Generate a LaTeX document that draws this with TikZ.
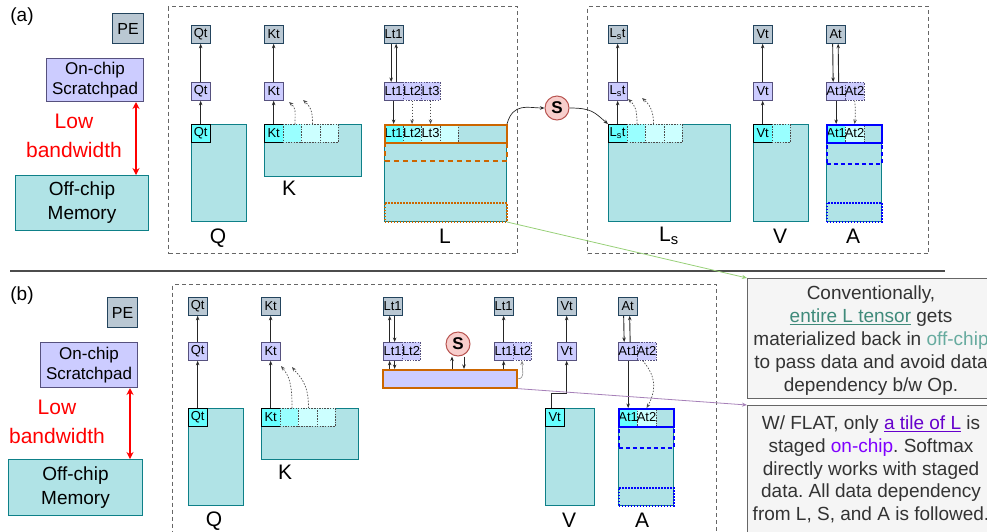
\documentclass[tikz,border=0pt]{standalone}
\usepackage{fontspec}
\setmainfont{Liberation Sans}
\usetikzlibrary{arrows.meta,calc}
\frenchspacing
\definecolor{gfill}{HTML}{BAC8D3}
\definecolor{gdraw}{HTML}{23445D}
\definecolor{lfill}{HTML}{CCCCFF}
\definecolor{ldraw}{HTML}{56517E}
\definecolor{tfill}{HTML}{B0E3E6}
\definecolor{tdraw}{HTML}{0E8088}
\definecolor{cya}{HTML}{66FFFF}
\definecolor{cyb}{HTML}{99FFFF}
\definecolor{cyc}{HTML}{CCFFFF}
\definecolor{sfill}{HTML}{F8CECC}
\definecolor{sdraw}{HTML}{B85450}
\definecolor{orng}{HTML}{CC6600}
\definecolor{blu}{HTML}{0000FF}
\definecolor{grn}{HTML}{97D077}
\definecolor{prp}{HTML}{A680B8}
\definecolor{boxfill}{HTML}{F5F5F5}
\definecolor{boxdraw}{HTML}{666666}
\definecolor{txtc}{HTML}{333333}
\definecolor{tealA}{HTML}{3F8A7A}
\definecolor{tealB}{HTML}{67AB9F}
\definecolor{purA}{HTML}{6600CC}
\definecolor{purB}{HTML}{7F00FF}
\tikzset{
  tl/.style={minimum width=18.5pt, minimum height=18pt, inner sep=0pt, font=\fontsize{13}{13}\selectfont, line width=0.8pt, anchor=north west},
  gtile/.style={tl, fill=gfill, draw=gdraw},
  ltile/.style={tl, fill=lfill, draw=ldraw},
  ltiled/.style={tl, fill=lfill, draw=ldraw, dash pattern=on 1.5pt off 1.2pt, line width=0.6pt},
  ctile/.style={tl, fill=cya, draw=black},
  ctileb/.style={tl, fill=cyb, draw=black!70, dash pattern=on 1.5pt off 1.2pt, line width=0.6pt},
  ctilec/.style={tl, fill=cyc, draw=black!70, dash pattern=on 1.5pt off 1.2pt, line width=0.6pt},
  tensor/.style={fill=tfill, draw=tdraw, line width=1pt, inner sep=0pt, anchor=north west},
  frame/.style={draw=none, fill=none, inner sep=0pt, anchor=north west},
  obox/.style={frame, draw=orng, line width=1.6pt},
  bbox/.style={frame, draw=blu, line width=1.5pt},
  dbox/.style={frame, draw=black!60, line width=1pt, dash pattern=on 4pt off 3pt},
  arr/.style={-{Stealth[length=4.5pt,width=3.5pt]}, line width=0.9pt, draw=black!85},
  darr/.style={-{Stealth[length=4.5pt,width=3.5pt]}, line width=0.7pt, draw=black!70, dash pattern=on 1.5pt off 1.5pt},
  biglbl/.style={font=\fontsize{21}{21}\selectfont},
  redar/.style={{Stealth[length=7pt,width=7pt]}-{Stealth[length=7pt,width=7pt]}, line width=2pt, draw=red},
  pebox/.style={fill=gfill, draw=gdraw, line width=1pt, inner sep=0pt, anchor=north west, font=\fontsize{16}{18}\selectfont},
  spbox/.style={fill=lfill, draw=ldraw, line width=1pt, inner sep=0pt, anchor=north west, align=center, font=\fontsize{17}{20}\selectfont},
  ofbox/.style={fill=tfill, draw=tdraw, line width=1pt, inner sep=0pt, anchor=north west, align=center, font=\fontsize{19}{24}\selectfont},
  redtxt/.style={text=red, align=center, font=\fontsize{21}{29}\selectfont},
  scirc/.style={circle, fill=sfill, draw=sdraw, line width=1pt, minimum size=24pt, inner sep=0pt, font=\bfseries\fontsize{17}{17}\selectfont},
  tbox/.style={fill=boxfill, draw=boxdraw, line width=1pt, inner sep=0pt, anchor=north west},
  ttext/.style={text=txtc, align=center, font=\fontsize{19}{22.8}\selectfont, inner sep=0pt}
}
\begin{document}
\begin{tikzpicture}[x=1pt, y=-1pt]
\useasboundingbox (0,0) rectangle (987,531);
\clip (0,0) rectangle (987,531);

% ================= (a) =================
\node[font=\fontsize{19}{22}\selectfont] (labA) at (22,17) {(a)};
\node[pebox, minimum width=31pt, minimum height=30pt] (peA) at (112,13) {PE};
\node[spbox, minimum width=97pt, minimum height=43pt] (spA) at (46,58) {On-chip\\Scratchpad};
\node[ofbox, minimum width=133pt, minimum height=55pt] (ofA) at (15,175) {Off-chip\\Memory};
\node[redtxt] (lbA) at (74,136) {Low\\bandwidth};
\draw[redar] ($(spA.south east)+(-8,0)$) -- ($(ofA.north east)+(-13,0)$);

\node[dbox, minimum width=349pt, minimum height=247pt] (boxA1) at (168,6) {};
\node[dbox, minimum width=341pt, minimum height=247pt] (boxA2) at (587,6) {};

% Q
\node[tensor, minimum width=55pt, minimum height=97pt] (Qa) at (191,124) {};
\node[ctile] (qaT) at (191,124) {Qt};
\node[ltile] (qaM) at (191,82) {Qt};
\node[gtile] (qaG) at (191,25) {Qt};
\draw[arr] (qaT) -- (qaM);
\draw[arr] (qaM) -- (qaG);
\node[biglbl] (qaL) at (218,238) {Q};

% K
\node[tensor, minimum width=97pt, minimum height=52pt] (Ka) at (264,124) {};
\node[ctile] (kaT1) at (264,124) {Kt};
\node[ctileb] (kaT2) at (282.5,124) {};
\node[ctilec] (kaT3) at (301,124) {};
\node[ctilec] (kaT4) at (319.5,124) {};
\node[ltile] (kaM) at (264,82) {Kt};
\node[gtile] (kaG) at (264,25) {Kt};
\draw[arr] (kaT1) -- (kaM);
\draw[arr] (kaM) -- (kaG);
\coordinate (kaS1) at ($(kaT2.north)+(3,0)$);
\coordinate (kaE1) at (289,102);
\coordinate (kaS2) at ($(kaT3.north)+(2,0)$);
\coordinate (kaE2) at (303,100);
\draw[darr] (kaS1) .. controls ($(kaS1)+(0,-14)$) and ($(kaE1)+(7,6)$) .. (kaE1);
\draw[darr] (kaS2) .. controls ($(kaS2)+(0,-14)$) and ($(kaE2)+(7,6)$) .. (kaE2);
\node[biglbl] (kaL) at (289,188) {K};

% L
\node[tensor, minimum width=122pt, minimum height=97pt] (La) at (384,124) {};
\node[ctile, draw=none] (laT1) at (384,124) {Lt1};
\node[ctileb] (laT2) at (402.5,124) {Lt2};
\node[ctilec] (laT3) at (421,124) {Lt3};
\node[ctilec] (laT4) at (439.5,124) {};
\node[obox, minimum width=122pt, minimum height=18pt] (laR1) at (384,124) {};
\node[obox, minimum width=122pt, minimum height=18pt, dash pattern=on 5pt off 4pt] (laR2) at (384,142) {};
\node[obox, minimum width=122pt, minimum height=19pt, dash pattern=on 1.5pt off 1.5pt] (laR3) at (384,202) {};
\node[ltile] (laM1) at (384,82) {Lt1};
\node[ltiled] (laM2) at (402.5,82) {Lt2};
\node[ltiled] (laM3) at (421,82) {Lt3};
\node[gtile] (laG) at (384,25) {Lt1};
\draw[arr] ($(laG.south)+(-2.5,0)$) -- ($(laM1.north)+(-2.5,0)$);
\draw[arr] ($(laM1.north)+(2.5,0)$) -- ($(laG.south)+(2.5,0)$);
\draw[arr] (laM1.south) -- (laT1.north);
\draw[darr] (laM2.south) -- (laT2.north);
\draw[darr] (laM3.south) -- (laT3.north);
\node[biglbl] (laL) at (445,236) {L};

% S (a)
\node[scirc] (Sa) at (557,108) {S};
\draw[arr, line width=0.7pt] (La.north east) .. controls ($(La.north east)+(6,-22)$) and ($(Sa.west)+(-16,0)$) .. (Sa.west);

% Ls
\node[tensor, minimum width=122pt, minimum height=97pt] (LSa) at (608,124) {};
\node[ctile] (lsT1) at (608,124) {L\textsubscript{s}t};
\node[ctileb] (lsT2) at (626.5,124) {};
\node[ctilec] (lsT3) at (645,124) {};
\node[ctilec] (lsT4) at (663.5,124) {};
\node[ltile] (lsM) at (608,82) {L\textsubscript{s}t};
\node[gtile] (lsG) at (608,25) {L\textsubscript{s}t};
\draw[arr] (lsT1) -- (lsM);
\draw[arr] (lsM) -- (lsG);
\coordinate (lsS1) at ($(lsT2.north)+(1,0)$);
\coordinate (lsE1) at (628,99);
\coordinate (lsS2) at ($(lsT3.north)+(-1,0)$);
\coordinate (lsE2) at (642,98);
\draw[darr] (lsS1) .. controls ($(lsS1)+(0,-14)$) and ($(lsE1)+(7,6)$) .. (lsE1);
\draw[darr] (lsS2) .. controls ($(lsS2)+(0,-14)$) and ($(lsE2)+(7,6)$) .. (lsE2);
\node[biglbl] (lsL) at (669,236) {L\textsubscript{s}};
\draw[arr, line width=0.7pt] (Sa.east) .. controls ($(Sa.east)+(22,0)$) and ($(lsT1.north west)+(-14,-12)$) .. (lsT1.north west);

% V
\node[tensor, minimum width=55pt, minimum height=97pt] (Va) at (753,124) {};
\node[ctile] (vaT1) at (753,124) {Vt};
\node[ctileb] (vaT2) at (771.5,124) {};
\node[ltile] (vaM) at (753,82) {Vt};
\node[gtile] (vaG) at (753,25) {Vt};
\draw[arr] (vaT1) -- (vaM);
\draw[arr] (vaM) -- (vaG);
\node[biglbl] (vaL) at (780,236) {V};

% A
\node[tensor, minimum width=55pt, minimum height=97pt] (Aa) at (826,124) {};
\node[ctile, draw=none] (aaT1) at (826,124) {At1};
\node[ctilec] (aaT2) at (844.5,124) {At2};
\node[bbox, minimum width=55pt, minimum height=18pt] (aaR1) at (826,124) {};
\node[bbox, minimum width=55pt, minimum height=21pt, dash pattern=on 4pt off 3pt] (aaR2) at (826,142) {};
\node[bbox, minimum width=55pt, minimum height=19pt, dash pattern=on 1.5pt off 1.5pt] (aaR3) at (826,202) {};
\node[ltile] (aaM1) at (826,82) {At1};
\node[ltiled] (aaM2) at (844.5,82) {At2};
\node[gtile] (aaG) at (826,25) {At};
\draw[arr] ($(aaG.south)+(-3,0)$) -- ($(aaM1.north)+(-3,0)$);
\draw[arr] ($(aaM1.north)+(2.5,0)$) -- ($(aaG.south)+(2.5,0)$);
\draw[arr] (aaM1.south) -- (aaT1.north);
\draw[darr] (aaM2.south) .. controls ($(aaM2.south)+(1,8)$) and ($(aaT2.north)+(1,-8)$) .. (aaT2.north);
\node[biglbl] (aaL) at (853,236) {A};

% separator
\coordinate (sepL) at (10,271);
\coordinate (sepR) at (945,271);
\draw[line width=1.3pt, draw=black!70] (sepL) -- (sepR);

% ================= (b) =================
\node[font=\fontsize{19}{22}\selectfont] (labB) at (22,296) {(b)};
\node[pebox, minimum width=30pt, minimum height=30pt] (peB) at (107,297) {PE};
\node[spbox, minimum width=97pt, minimum height=45pt] (spB) at (40,342) {On-chip\\Scratchpad};
\node[ofbox, minimum width=134pt, minimum height=56pt] (ofB) at (8,459) {Off-chip\\Memory};
\node[redtxt] (lbB) at (57,422) {Low\\bandwidth};
\draw[redar] ($(spB.south east)+(-8,0)$) -- ($(ofB.north east)+(-13,0)$);

\node[dbox, minimum width=544pt, minimum height=262pt] (boxB) at (172,284) {};

% Q
\node[tensor, minimum width=55pt, minimum height=97pt] (Qb) at (188,408) {};
\node[ctile] (qbT) at (188,408) {Qt};
\node[ltile] (qbM) at (188,342) {Qt};
\node[gtile] (qbG) at (188,297) {Qt};
\draw[arr] (qbT) -- (qbM);
\draw[arr] (qbM) -- (qbG);
\node[biglbl] (qbL) at (214,521) {Q};

% K
\node[tensor, minimum width=97pt, minimum height=51pt] (Kb) at (261,408) {};
\node[ctile] (kbT1) at (261,408) {Kt};
\node[ctileb] (kbT2) at (279.5,408) {};
\node[ctilec] (kbT3) at (298,408) {};
\node[ctilec] (kbT4) at (316.5,408) {};
\node[ltile] (kbM) at (261,342) {Kt};
\node[gtile] (kbG) at (261,297) {Kt};
\draw[arr] (kbT1) -- (kbM);
\draw[arr] (kbM) -- (kbG);
\coordinate (kbS1) at ($(kbT2.north)+(3,0)$);
\coordinate (kbE1) at (281,366);
\coordinate (kbS2) at ($(kbT3.north)+(1,0)$);
\coordinate (kbE2) at (292,367);
\draw[darr] (kbS1) .. controls ($(kbS1)+(0,-25)$) and ($(kbE1)+(8,10)$) .. (kbE1);
\draw[darr] (kbS2) .. controls ($(kbS2)+(0,-25)$) and ($(kbE2)+(8,10)$) .. (kbE2);
\node[biglbl] (kbL) at (285,472) {K};

% L tile staged on chip
\node[gtile] (lbG) at (383,297) {Lt1};
\node[ltile] (lbM1) at (383,342) {Lt1};
\node[ltiled] (lbM2) at (401.5,342) {Lt2};
\node[frame, fill=lfill, draw=orng, line width=1.6pt, minimum width=134pt, minimum height=18pt] (bar) at (382,369) {};
\draw[arr] ($(lbM1.north)+(-3,0)$) -- ($(lbG.south)+(-3,0)$);
\draw[arr] ($(lbG.south)+(2,0)$) -- ($(lbM1.north)+(2,0)$);
\coordinate (lbP1) at ($(lbM1.south)+(-3,0)$);
\coordinate (lbP2) at ($(lbM1.south)+(2,0)$);
\draw[arr] (lbP1 |- bar.north) -- (lbP1);
\draw[arr] (lbP2) -- (lbP2 |- bar.north);

\node[scirc] (Sb) at (458,344) {S};
\coordinate (sbP1) at ($(Sb.south)+(-6,0)$);
\coordinate (sbP2) at ($(Sb.south)+(6,0)$);
\draw[arr] (sbP1 |- bar.north) -- (sbP1);
\draw[arr] (sbP2) -- (sbP2 |- bar.north);

\node[gtile] (lb2G) at (494,297) {Lt1};
\node[ltile] (lb2M1) at (494,342) {Lt1};
\node[ltiled] (lb2M2) at (512.5,342) {Lt2};
\draw[arr] (lb2M1.south |- bar.north) -- (lb2M1.south);
\draw[arr] (lb2M1) -- (lb2G);
\draw[-{Stealth[length=4.5pt,width=3.5pt]}, line width=0.6pt, draw=black!45] (bar.east) .. controls ($(bar.east)+(8,0)$) and ($(lb2M2.south)+(0,10)$) .. (lb2M2.south);

% V
\node[tensor, minimum width=49pt, minimum height=97pt] (Vb) at (545,408) {};
\node[ctile] (vbT) at (545,408) {Vt};
\node[ltile] (vbM) at (557,342) {Vt};
\node[gtile] (vbG) at (557,297) {Vt};
\draw[arr] ($(vbT.north)+(-3,0)$) -- ++(0,-15) -| (vbM.south);
\draw[arr] (vbM) -- (vbG);
\node[biglbl] (vbL) at (569,520) {V};

% A
\node[tensor, minimum width=55pt, minimum height=97pt] (Ab) at (618,408) {};
\node[ctile, draw=none] (abT1) at (618,408) {At1};
\node[ctilec] (abT2) at (636.5,408) {At2};
\node[bbox, minimum width=55pt, minimum height=18pt] (abR1) at (618,408) {};
\node[bbox, minimum width=55pt, minimum height=21pt, dash pattern=on 4pt off 3pt] (abR2) at (618,426) {};
\node[bbox, minimum width=55pt, minimum height=18pt, dash pattern=on 1.5pt off 1.5pt] (abR3) at (618,487) {};
\node[ltile] (abM1) at (618,342) {At1};
\node[ltiled] (abM2) at (636.5,342) {At2};
\node[gtile] (abG) at (618,297) {At};
\draw[arr] ($(abG.south)+(-4,0)$) -- ($(abM1.north)+(-4,0)$);
\draw[arr] ($(abM1.north)+(2,0)$) -- ($(abG.south)+(2,0)$);
\draw[arr] (abM1.south) -- (abT1.north);
\coordinate (abS) at ($(abM2.south)+(-4,0)$);
\draw[darr] (abS) .. controls ($(abS)+(16,18)$) and ($(abT2.north)+(8,-14)$) .. (abT2.north);
\node[biglbl] (abL) at (642,520) {A};

% ================= notes =================
\node[tbox, minimum width=248pt, minimum height=120pt] (tb1) at (747,278) {};
\node[ttext] (tt1) at (871,340.5) {Conventionally,\\\textcolor{tealA}{\underline{entire L tensor}} gets\\materialized back in \textcolor{tealB}{off-chip}\\to pass data and avoid data\\dependency b/w Op.};
\node[tbox, minimum width=248pt, minimum height=140pt] (tb2) at (747,405) {};
\node[ttext] (tt2) at (871,469.5) {W/ FLAT, only \textcolor{purA}{\underline{a tile of L}} is\\staged \textcolor{purB}{on-chip}. Softmax\\directly works with staged\\data. All data dependency\\from L, S, and A is followed.};

\draw[draw=grn, line width=0.8pt, -{Stealth[length=5pt,width=4pt]}] (La.south east) -- (tb1.north west);
\draw[draw=prp, line width=0.8pt, -{Stealth[length=5pt,width=4pt]}] (bar.south east) -- (tb2.north west);
\end{tikzpicture}
\end{document}
